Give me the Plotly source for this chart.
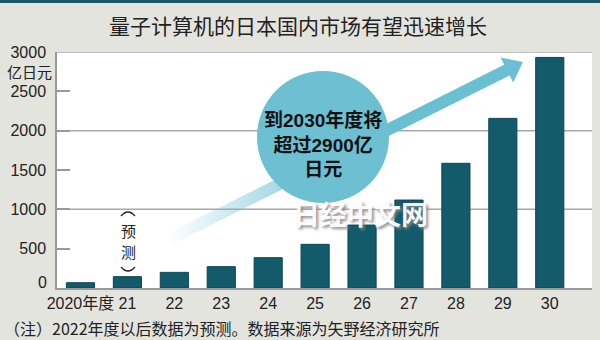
import plotly.graph_objects as go

categories = ["2020年度", "21", "22", "23", "24", "25", "26", "27", "28", "29", "30"]
values = [67, 144, 199, 271, 385, 555, 800, 1118, 1585, 2156, 2931]
y_ticks = [0, 500, 1000, 1500, 2000, 2500, 3000]
y_tick_text = ["", "500", "1000", "1500", "2000", "2500", "3000"]
grid_vals = [1000, 2000, 3000]

title_text = "量子计算机的日本国内市场有望迅速增长"
unit_text = "亿日元"
zero_text = "0"
bubble_text = "到2030年度将<br>超过2900亿<br>日元"
forecast_chars = ["预", "测"]
note_text = "（注）2022年度以后数据为预测。数据来源为矢野经济研究所"
watermark_text = "日经中文网"

W, H = 600, 340
L, R, T, B = 57, 8, 52, 52
PW, PH = W - L - R, H - T - B

def px(x):
    return (x - L) / PW

def py(y):
    return (H - B - y) / PH

FONT = "Liberation Sans, Arial, Noto Sans CJK SC, sans-serif"
CJK = "Noto Sans CJK SC"
BAR = "#135a6b"
LIGHT = "#6bbfd3"

fig = go.Figure()
fig.add_trace(go.Bar(
    x=categories, y=values, width=0.6,
    marker=dict(color=BAR, line=dict(color="#0c4656", width=1)),
    hoverinfo="skip", showlegend=False,
))

# arrow (pixel-space overlay axes)
ux, uy = 0.893, -0.449
nx, ny = 0.449, 0.893
tip = (523, 62)
base = (tip[0] - 18 * ux, tip[1] - 18 * uy)
start = (170, 239)
hw = 6
shaft_x = [start[0] + hw * nx, base[0] + 2 * ux + hw * nx, base[0] + 2 * ux - hw * nx, start[0] - hw * nx, start[0] + hw * nx]
shaft_y = [start[1] + hw * ny, base[1] + 2 * uy + hw * ny, base[1] + 2 * uy - hw * ny, start[1] - hw * ny, start[1] + hw * ny]
fig.add_trace(go.Scatter(
    x=shaft_x, y=shaft_y, xaxis="x2", yaxis="y2", mode="lines", line=dict(width=0),
    fill="toself",
    fillgradient=dict(type="horizontal", colorscale=[[0, "rgba(107,191,211,0)"], [0.55, "rgba(107,191,211,1)"], [1, "rgba(107,191,211,1)"]]),
    hoverinfo="skip", showlegend=False,
))
hh = 14
head_x = [tip[0], base[0] + hh * nx, base[0] - hh * nx, tip[0]]
head_y = [tip[1], base[1] + hh * ny, base[1] - hh * ny, tip[1]]
fig.add_trace(go.Scatter(
    x=head_x, y=head_y, xaxis="x2", yaxis="y2", mode="lines", line=dict(width=0, color=LIGHT),
    fill="toself", fillcolor=LIGHT, hoverinfo="skip", showlegend=False,
))

shapes = []
for g in grid_vals:
    shapes.append(dict(type="line", xref="paper", yref="y", x0=0, x1=1, y0=g, y1=g,
                       line=dict(color="#a8a8a8", width=1.5), layer="below"))
# top band
shapes.append(dict(type="rect", xref="paper", yref="paper", x0=px(0), x1=px(W), y0=py(0), y1=py(3),
                   fillcolor="#1b5566", line=dict(width=0)))
# bubble
shapes.append(dict(type="circle", xref="x2", yref="y2", x0=257, x1=389, y0=71, y1=203,
                   fillcolor="#6dbfd2", line=dict(width=0), layer="above"))
# vertical parentheses around 预测
shapes.append(dict(type="path", xref="x2", yref="y2", path="M 121 216 Q 128 208 135 216",
                   line=dict(color="#222", width=1.3)))
shapes.append(dict(type="path", xref="x2", yref="y2", path="M 121 267 Q 128 275 135 267",
                   line=dict(color="#222", width=1.3)))

annotations = [
    dict(text=title_text, xref="paper", yref="paper", x=px(298), y=py(25), showarrow=False,
         font=dict(size=21, color="#222", family=CJK), xanchor="center", yanchor="middle"),
    dict(text=unit_text, xref="paper", yref="paper", x=px(54), y=py(71), showarrow=False,
         font=dict(size=15, color="#222", family=CJK), xanchor="right", yanchor="middle"),
    dict(text=zero_text, xref="paper", yref="paper", x=px(49), y=py(282), showarrow=False,
         font=dict(size=16, color="#222", family=FONT), xanchor="right", yanchor="middle"),
    dict(text="<b>" + bubble_text + "</b>", xref="paper", yref="paper", x=px(323), y=py(144), showarrow=False,
         font=dict(size=19, color="#111", family=FONT), xanchor="center", yanchor="middle", align="center"),
    dict(text=watermark_text, xref="paper", yref="paper", x=px(360), y=py(213), showarrow=False,
         font=dict(size=27, color="rgba(255,255,255,0.95)", family=CJK, weight="bold",
                   shadow="2px 2px 3px #888"), xanchor="center", yanchor="middle"),
    dict(text=note_text, xref="paper", yref="paper", x=px(2), y=py(328), showarrow=False,
         font=dict(size=16, color="#222", family=CJK), xanchor="left", yanchor="middle"),
]
for i, ch in enumerate(forecast_chars):
    annotations.append(dict(text=ch, xref="paper", yref="paper", x=px(128), y=py(230 + 21 * i),
                            showarrow=False, font=dict(size=15, color="#222", family=CJK),
                            xanchor="center", yanchor="middle"))

fig.update_layout(
    width=W, height=H,
    margin=dict(l=L, r=R, t=T, b=B, pad=0),
    paper_bgcolor="#e4e4df", plot_bgcolor="#ffffff",
    font=dict(family=FONT, size=16, color="#222"),
    bargap=0.4,
    xaxis=dict(type="category", range=[-0.5, 10.9], showgrid=False, showline=True,
               linecolor="#999", linewidth=1.5, ticks="", tickfont=dict(size=16, color="#222"),
               fixedrange=True),
    yaxis=dict(range=[0, 3000], tickvals=y_ticks, ticktext=y_tick_text, ticks="inside", ticklen=13,
               tickcolor="#999", tickwidth=1.5, showgrid=False, zeroline=False, showline=True,
               linecolor="#999", linewidth=1.5, tickfont=dict(size=16, color="#222"),
               ticklabelstandoff=6, fixedrange=True),
    xaxis2=dict(overlaying="x", range=[L, W - R], visible=False, fixedrange=True),
    yaxis2=dict(overlaying="y", range=[H - B, T], visible=False, fixedrange=True),
    shapes=shapes,
    annotations=annotations,
)

fig.write_html("out.html")
